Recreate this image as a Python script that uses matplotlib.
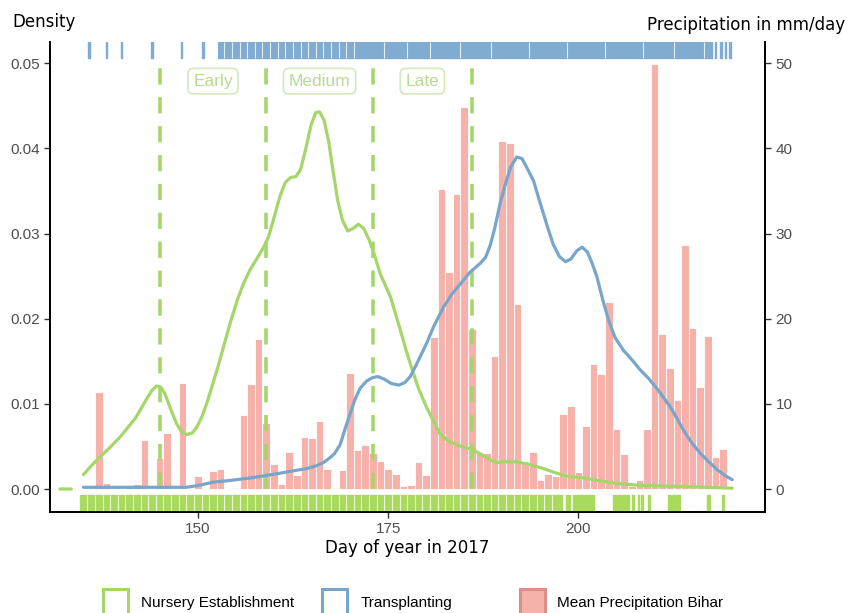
import matplotlib
matplotlib.use("Agg")
import matplotlib.pyplot as plt
from matplotlib.patches import Rectangle

# mean precipitation (mm/day) per day of year
precip_days = [137, 138, 141, 142, 143, 145, 146, 148, 150, 152, 153, 155, 156, 157, 158, 159,
               160, 161, 162, 163, 164, 165, 166, 167, 168, 169, 170, 171, 172, 173, 174, 175,
               176, 177, 178, 179, 180, 181, 182, 183, 184, 185, 186, 187, 188, 189, 190, 191,
               192, 193, 194, 195, 196, 197, 198, 199, 200, 201, 202, 203, 204, 205, 206, 207,
               208, 209, 210, 211, 212, 213, 214, 215, 216, 217, 218, 219]
precip_mm = [11.4, 0.7, 0.45, 0.6, 5.8, 3.6, 6.6, 12.4, 1.5, 2.1, 2.4, 0.15, 8.7, 12.3, 17.6, 7.8,
             2.9, 0.6, 4.3, 1.6, 6.1, 6.0, 8.0, 2.4, 0.1, 2.2, 13.6, 4.6, 5.2, 4.2, 3.3, 2.3,
             1.8, 0.4, 0.5, 3.2, 1.7, 17.8, 35.2, 25.5, 34.6, 44.9, 18.8, 4.4, 4.2, 15.6, 40.9, 40.6,
             21.7, 3.1, 4.4, 1.1, 1.8, 1.5, 8.8, 9.7, 2.0, 7.4, 14.7, 13.5, 22.0, 7.0, 4.1, 0.3,
             1.0, 7.0, 49.9, 18.2, 14.2, 10.4, 28.6, 18.9, 12.0, 18.0, 3.8, 4.7]

# density of nursery establishment dates
nursery_x = [131.9, 133.4, None,
             135.0, 136.0, 137.2, 138.5, 139.8, 140.8, 141.8, 142.6, 143.3, 144.0, 144.6, 145.1,
             145.7, 146.4, 147.2, 147.9, 148.6, 149.3, 149.9, 150.6, 151.2, 152.0, 152.8, 153.6,
             154.4, 155.2, 156.0, 156.9, 157.8, 158.6, 159.3, 160.0, 160.8, 161.5, 162.2, 162.9,
             163.5, 164.2, 164.9, 165.5, 166.0, 166.6, 167.2, 167.8, 168.4, 169.0, 169.7, 170.4,
             171.1, 171.8, 172.5, 173.2, 174.0, 175.3, 176.0, 176.6, 177.3, 178.1, 179.0, 180.1,
             181.0, 181.8, 182.8, 184.0, 185.0, 186.2, 187.5, 188.5, 189.3, 190.2, 191.9, 193.5,
             195.4, 197.0, 198.5, 200.7, 202.5, 204.6, 207.0, 209.0, 213.4, 217.0, 220.2]
nursery_y = [0.0, 0.0, None,
             0.0017, 0.0027, 0.0038, 0.0049, 0.0061, 0.0072, 0.0083, 0.0095, 0.0106, 0.0116, 0.0121, 0.0120,
             0.0112, 0.0095, 0.0077, 0.0067, 0.0064, 0.0066, 0.0073, 0.0086, 0.0101, 0.0124, 0.0148, 0.0174,
             0.0199, 0.0222, 0.0241, 0.0258, 0.0271, 0.0283, 0.0296, 0.0318, 0.0344, 0.0360, 0.0366, 0.0367,
             0.0375, 0.0400, 0.0428, 0.0442, 0.0443, 0.0433, 0.0408, 0.0372, 0.0338, 0.0316, 0.0303, 0.0306,
             0.0311, 0.0306, 0.0293, 0.0275, 0.0252, 0.0226, 0.0205, 0.0187, 0.0165, 0.0142, 0.0118, 0.0095,
             0.0079, 0.0065, 0.0057, 0.0052, 0.0049, 0.0046, 0.0039, 0.0034, 0.0031, 0.0032, 0.0032, 0.0029,
             0.0024, 0.0019, 0.0015, 0.0013, 0.0010, 0.0007, 0.0005, 0.0004, 0.0003, 0.0002, 0.0001]

# density of transplanting dates
transp_x = [135.0, 140.0, 145.0, 148.5, 150.0, 152.0, 154.2, 156.9, 159.1, 161.7, 164.3, 165.5,
            166.5, 167.4, 168.0, 168.7, 169.4, 170.0, 170.6, 171.3, 172.2, 173.0, 173.7, 174.5,
            175.4, 176.4, 177.2, 177.9, 178.6, 179.3, 180.1, 181.0, 182.3, 183.4, 184.5, 185.8,
            187.1, 187.8, 188.4, 189.0, 189.7, 190.4, 191.1, 191.9, 192.6, 193.3, 194.1, 195.0,
            196.0, 196.7, 197.5, 198.3, 199.0, 199.8, 200.5, 201.2, 201.8, 202.4, 203.2, 204.0,
            204.8, 205.9, 207.0, 208.1, 209.2, 210.3, 211.2, 212.1, 213.0, 213.8, 214.9, 216.0,
            217.1, 218.2, 219.2, 220.2]
transp_y = [0.0002, 0.0002, 0.0002, 0.0002, 0.0004, 0.0008, 0.0010, 0.0013, 0.0016, 0.0020, 0.0024, 0.0027,
            0.0031, 0.0037, 0.0042, 0.0052, 0.0072, 0.0088, 0.0104, 0.0118, 0.0127, 0.0131, 0.0132, 0.0129,
            0.0124, 0.0122, 0.0125, 0.0132, 0.0144, 0.0157, 0.0172, 0.0191, 0.0214, 0.0229, 0.0241, 0.0255,
            0.0265, 0.0272, 0.0286, 0.0306, 0.0335, 0.0358, 0.0378, 0.0390, 0.0388, 0.0376, 0.0362, 0.0335,
            0.0306, 0.0287, 0.0273, 0.0267, 0.0270, 0.0280, 0.0284, 0.0278, 0.0265, 0.0250, 0.0222, 0.0197,
            0.0178, 0.0163, 0.0152, 0.0140, 0.0130, 0.0118, 0.0107, 0.0096, 0.0082, 0.0069, 0.0054, 0.0042,
            0.0032, 0.0023, 0.0016, 0.0011]

# rug coverage (day ranges)
nursery_rug = [(134.6, 197.8), (198.4, 198.9), (199.3, 202.1), (204.6, 206.6), (207.0, 207.3),
               (207.8, 208.0), (208.2, 208.5), (209.1, 209.4), (211.7, 212.8), (213.0, 213.3),
               (216.9, 217.3), (218.9, 219.1)]
transp_rug = [(135.6, 135.8), (137.9, 138.1), (139.9, 140.1), (143.8, 144.1), (147.8, 148.0),
              (150.6, 150.8), (152.6, 217.5), (217.9, 218.1), (218.6, 218.8), (219.2, 219.4),
              (219.8, 220.0)]

# planting windows
window_lines = [145, 159, 173, 186]
window_labels = ["Early", "Medium", "Late"]

green = "#A5D66A"
green_rug = "#A9DA5E"
blue = "#78A6CA"
blue_rug = "#80ACD1"
pink = "#F6B1AB"

fig = plt.figure(figsize=(8.58, 6.13), dpi=100)
ax = fig.add_axes([50 / 858, 1 - 512 / 613, 715 / 858, 470 / 613])
ax2 = ax.twinx()

ax.set_zorder(2)
ax.patch.set_visible(False)

ax2.bar(precip_days, precip_mm, width=1.0, color=pink, edgecolor="white", linewidth=0.6)

ax.plot(nursery_x, nursery_y, color=green, lw=2.3, solid_capstyle="round",
        solid_joinstyle="round", zorder=4)
ax.plot(transp_x, transp_y, color=blue, lw=2.3, solid_capstyle="round",
        solid_joinstyle="round", zorder=4)

for d in window_lines:
    ax.plot([d, d], [0, 0.0506], color=green, lw=2.6, dashes=(4.5, 3.5), zorder=3)

for i, lab in enumerate(window_labels):
    xm = (window_lines[i] + window_lines[i + 1]) / 2
    ax.text(xm, 0.0479, lab, ha="center", va="center", fontsize=12.5, color="#B7DB92",
            family="Liberation Sans",
            bbox=dict(boxstyle="round,pad=0.3,rounding_size=0.3", fc="white", ec="#D3E9BC", lw=1.2))

# rugs, with thin white seams between days
ax.broken_barh([(a, b - a) for a, b in nursery_rug], (-0.0026, 0.0019), color=green_rug, zorder=2)
ax.broken_barh([(a, b - a) for a, b in transp_rug], (0.0506, 0.0019), color=blue_rug, zorder=2)
seams_green = [k + 0.5 for k in range(135, 197)]
seams_blue = [k + 0.5 for k in range(152, 171)] + [174.5, 177.5, 180.5, 184.5, 188.5, 193.5,
                                                   198.5, 203.5, 208.5, 212.5, 216.5]
ax.vlines(seams_green, -0.0026, -0.0007, color="white", lw=0.8, alpha=0.8, zorder=2.5)
ax.vlines(seams_blue, 0.0506, 0.0525, color="white", lw=0.8, alpha=0.8, zorder=2.5)

ax.set_xlim(130.6, 224.5)
ax.set_ylim(-0.0027, 0.0525)
ax2.set_ylim(-2.7, 52.5)

ax.set_yticks([0, 0.01, 0.02, 0.03, 0.04, 0.05])
ax.set_yticklabels(["0.00", "0.01", "0.02", "0.03", "0.04", "0.05"])
ax2.set_yticks([0, 10, 20, 30, 40, 50])
ax.set_xticks([150, 175, 200])

for a in (ax, ax2):
    a.spines["top"].set_visible(False)
    for s in ("left", "right", "bottom"):
        a.spines[s].set_linewidth(1.3)
        a.spines[s].set_color("black")
    a.tick_params(length=4, width=1, color="#333333", labelcolor="#4D4D4D", labelsize=11)
    for t in a.get_xticklabels() + a.get_yticklabels():
        t.set_family("Liberation Sans")

ax.set_xlabel("Day of year in 2017", fontsize=12, family="DejaVu Sans", labelpad=2)
fig.text(12 / 858, 1 - 22 / 613, "Density", fontsize=12, family="DejaVu Sans", va="center")
fig.text(845 / 858, 1 - 25 / 613, "Precipitation in mm/day", fontsize=12, family="DejaVu Sans",
         va="center", ha="right")

# legend
legend_items = [("Nursery Establishment", 103, "white", green, 141),
                ("Transplanting", 322, "white", blue, 361),
                ("Mean Precipitation Bihar", 520, pink, "#D98F8A", 557)]
for lab, x0, fc, ec, tx in legend_items:
    fig.add_artist(Rectangle((x0 / 858, 1 - 614 / 613), 25 / 858, 25 / 613,
                             transform=fig.transFigure, fc=fc, ec=ec, lw=2.2))
    fig.text(tx / 858, 1 - 603 / 613, lab, fontsize=11, family="Liberation Sans", va="center")

fig.savefig("out.png", dpi=100)
